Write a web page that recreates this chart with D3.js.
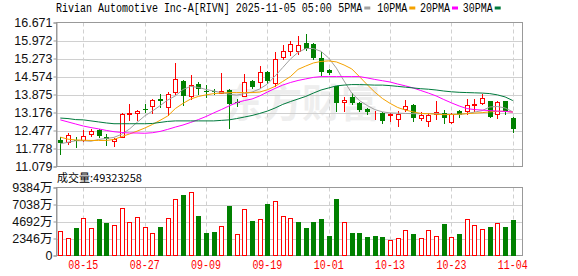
<!DOCTYPE html>
<html>
<head>
<meta charset="utf-8">
<script src="https://cdn.jsdelivr.net/npm/d3@7"></script>
<style>
  body { margin: 0; background: #fff; }
  svg { display: block; }
</style>
</head>
<body>
<div id="chart"></div>
<script>
// Daily K-line for RIVN, 2025-08-12 .. 2025-11-04

const dates = [
    "08-12","08-13","08-14","08-15","08-18","08-19","08-20","08-21","08-22","08-25",
    "08-26","08-27","08-28","08-29","09-02","09-03","09-04","09-05","09-08","09-09",
    "09-10","09-11","09-12","09-15","09-16","09-17","09-18","09-19","09-22","09-23",
    "09-24","09-25","09-26","09-29","09-30","10-01","10-02","10-03","10-06","10-07",
    "10-08","10-09","10-10","10-13","10-14","10-15","10-16","10-17","10-20","10-21",
    "10-22","10-23","10-24","10-27","10-28","10-29","10-30","10-31","11-03","11-04"
];

const openP = [
    12.09,12.02,12.09,12.09,12.34,12.48,12.22,12.05,12.24,13.13,
    13.16,13.32,13.41,13.71,13.38,13.96,14.41,13.80,14.27,14.03,
    14.01,13.94,14.04,13.60,13.82,14.41,14.37,14.76,14.34,15.35,
    15.57,15.57,15.87,15.83,15.31,14.83,14.21,13.59,13.76,13.56,
    13.33,13.15,13.17,13.06,12.92,13.30,13.45,12.97,12.85,13.13,
    13.14,12.80,13.25,13.23,13.45,13.54,13.61,13.13,13.61,12.98
];
const highP = [
    12.21,12.39,12.24,12.48,12.52,12.54,12.36,12.18,13.14,13.51,
    13.29,13.51,13.71,13.90,13.96,15.08,14.43,14.62,14.37,14.24,
    14.10,14.70,14.08,13.69,14.69,14.45,14.99,14.80,15.53,15.79,
    15.97,16.13,16.24,15.87,15.51,14.87,14.21,13.76,13.95,13.59,
    13.37,13.24,13.20,13.17,13.25,13.68,13.51,13.19,13.17,13.61,
    13.28,13.15,13.28,13.71,13.69,13.90,13.62,13.62,13.62,13.01
];
const lowP = [
    11.58,11.96,11.83,12.06,12.26,12.22,11.90,11.87,12.22,12.87,
    12.90,13.21,13.16,13.38,13.09,13.91,13.46,13.69,13.89,13.76,
    13.88,13.93,12.59,13.44,13.80,14.12,14.15,14.34,14.19,15.25,
    15.39,15.45,15.61,15.27,14.62,14.66,13.24,13.24,13.50,13.24,
    13.11,12.92,12.77,12.84,12.65,13.23,12.85,12.87,12.67,12.94,
    12.76,12.76,13.02,13.10,13.25,13.51,13.01,12.97,13.13,12.40
];
const closeP = [
    12.01,12.32,12.05,12.28,12.44,12.28,12.16,12.13,13.13,13.17,
    13.25,13.28,13.67,13.64,13.90,14.48,13.82,14.25,14.08,14.00,
    13.99,14.00,13.50,13.58,14.37,14.15,14.73,14.41,15.25,15.57,
    15.83,15.79,15.63,15.31,14.73,14.70,13.56,13.67,13.53,13.28,
    13.18,13.17,12.85,13.10,13.12,13.44,12.97,13.06,13.09,13.21,
    12.96,13.13,13.06,13.45,13.51,13.75,13.02,13.58,13.24,12.52
];

// volume in 万股
const volume = [
    3410,2440,3860,5200,3820,4970,4510,4240,6580,4650,
    5340,3960,3130,4000,5200,7830,8380,8790,5520,3040,
    3310,4100,6900,3000,6350,4830,4970,7040,7590,5520,
    5150,4600,3770,4690,4970,2760,7730,4690,3040,3170,
    2620,2760,2620,2160,2480,3540,2900,2350,3540,2760,
    4280,2620,2900,4970,4240,3590,4000,4510,3900,4932.3258
];
// 1 = up day (red), 0 = down day (green) for the volume bars
const volUp = [
    1,1,0,1,1,0,0,1,1,1, 1,1,1,0,1,1,0,1,0,0,
    0,1,0,1,1,0,1,0,1,1, 1,0,0,0,0,0,0,1,0,0,
    0,0,0,1,1,1,0,1,1,1, 0,1,0,1,1,1,0,1,0,0
];

const ma5 = [
    11.96,12.02,12.08,12.08,12.06,12.13,12.17,12.21,12.33,12.53,
    12.79,13.04,13.23,13.44,13.66,13.82,14.07,14.19,14.15,14.07,
    14.01,13.95,13.89,13.85,13.91,13.97,14.09,14.28,14.59,14.92,
    15.25,15.51,15.66,15.66,15.55,15.29,14.90,14.40,13.93,13.64,
    13.45,13.29,13.20,13.16,13.15,13.14,13.13,13.13,13.13,13.14,
    13.10,13.10,13.10,13.14,13.19,13.25,13.39,13.41,13.35,13.20
];
const ma10 = [
    12.22,12.14,12.11,12.10,12.09,12.09,12.09,12.13,12.24,12.34,
    12.45,12.57,12.71,12.87,13.04,13.33,13.53,13.70,13.80,13.86,
    13.91,13.93,13.95,13.95,13.95,13.95,13.97,14.06,14.19,14.38,
    14.57,14.85,14.98,15.10,15.16,15.18,15.14,15.02,14.87,14.57,
    14.26,13.97,13.72,13.53,13.37,13.27,13.20,13.14,13.13,13.11,
    13.09,13.10,13.11,13.13,13.15,13.17,13.20,13.22,13.22,13.19
];
const ma20 = [
    12.89,12.81,12.73,12.65,12.59,12.54,12.48,12.43,12.40,12.38,
    12.38,12.37,12.39,12.44,12.52,12.61,12.69,12.79,12.90,13.02,
    13.16,13.29,13.43,13.56,13.64,13.70,13.82,13.97,14.11,14.24,
    14.34,14.42,14.48,14.54,14.57,14.57,14.57,14.57,14.57,14.57,
    14.52,14.46,14.41,14.36,14.28,14.21,14.13,14.03,13.93,13.82,
    13.68,13.55,13.43,13.33,13.29,13.27,13.25,13.23,13.22,13.19
];
const ma30 = [
    12.96,12.94,12.90,12.89,12.85,12.81,12.77,12.74,12.74,12.74,
    12.74,12.74,12.75,12.79,12.83,12.85,12.85,12.85,12.85,12.85,
    12.85,12.87,12.89,12.94,13.00,13.06,13.14,13.23,13.35,13.49,
    13.60,13.70,13.80,13.93,14.05,14.13,14.21,14.24,14.26,14.26,
    14.25,14.24,14.24,14.22,14.19,14.16,14.13,14.10,14.08,14.05,
    14.01,13.98,13.96,13.95,13.94,13.93,13.91,13.86,13.78,13.64
];

const priceTicks = [11.079, 11.778, 12.477, 13.176, 13.875, 14.574, 15.273, 15.972, 16.671];
const volTicks = [0, 2346, 4692, 7038, 9384];
const dateTicks = ["08-15", "08-27", "09-09", "09-19", "10-01", "10-13", "10-23", "11-04"];

const maNames = ["5PMA", "10PMA", "20PMA", "30PMA"];
const maColors = ["#a0a0a0", "#f5a200", "#ff00ff", "#007a3d"];
const maSeries = [ma5, ma10, ma20, ma30];

const RED = "#ff0000";
const GREEN = "#008000";
const GRID = "#d0d0d0";
const FRAME = "#999";
const MONO = "'Liberation Mono', monospace";
const NUMF = "'Liberation Sans', Arial, sans-serif";
const CJK = "'Noto Sans CJK SC', sans-serif";

const width = 578, height = 276;
const left = 56.5, right = 522.5;
const pTop = 22.5, pBottom = 166.5;
const vTop = 187.5, vBottom = 255.5;

const svg = d3.select("#chart").append("svg")
    .attr("width", width)
    .attr("height", height);

const x = d3.scalePoint().domain(dates).range([left + 3.8, right - 9.7]);
const yP = d3.scaleLinear().domain([11.079, 16.671]).range([pBottom, pTop]);
const yV = d3.scaleLinear().domain([0, 9384]).range([vBottom, vTop]);

const bars = dates.map((d, i) => ({
    d, o: openP[i], h: highP[i], l: lowP[i], c: closeP[i], v: volume[i], vu: volUp[i]
}));

// watermark
svg.append("text")
    .attr("x", 224).attr("y", 117)
    .attr("font-family", CJK).attr("font-weight", "bold")
    .attr("font-size", "39px").attr("fill", "#eeeeee")
    .text("东方财富");

// ---- grid ----
const grid = svg.append("g");
grid.selectAll(".hp").data(priceTicks.slice(1, -1)).join("line")
    .attr("x1", left).attr("x2", right)
    .attr("y1", d => Math.round(yP(d)) + 0.5).attr("y2", d => Math.round(yP(d)) + 0.5)
    .attr("stroke", GRID);
grid.selectAll(".hv").data(volTicks.slice(1, -1)).join("line")
    .attr("x1", left).attr("x2", right)
    .attr("y1", d => Math.round(yV(d)) + 0.5).attr("y2", d => Math.round(yV(d)) + 0.5)
    .attr("stroke", GRID);
[[pTop, pBottom], [vTop, vBottom]].forEach(([t, b]) => {
    grid.append("g").selectAll("line").data(dateTicks).join("line")
        .attr("x1", d => Math.round(x(d)) + 0.5).attr("x2", d => Math.round(x(d)) + 0.5)
        .attr("y1", t).attr("y2", b)
        .attr("stroke", GRID).attr("stroke-dasharray", "4,3");
});

// ---- frames ----
svg.append("rect").attr("x", left).attr("y", pTop)
    .attr("width", right - left).attr("height", pBottom - pTop)
    .attr("fill", "none").attr("stroke", FRAME);
svg.append("rect").attr("x", left).attr("y", vTop)
    .attr("width", right - left).attr("height", vBottom - vTop)
    .attr("fill", "none").attr("stroke", FRAME);

// ---- axes ----
const axP = svg.append("g").attr("transform", `translate(${left},0)`)
    .call(d3.axisLeft(yP).tickValues(priceTicks).tickSize(3).tickPadding(1)
        .tickFormat(d3.format(".3f")));
const axV = svg.append("g").attr("transform", `translate(${left},0)`)
    .call(d3.axisLeft(yV).tickValues(volTicks).tickSize(3).tickPadding(1)
        .tickFormat(d => d === 0 ? "0" : d + "万"));
[axP, axV].forEach(ax => {
    ax.select(".domain").attr("stroke", FRAME);
    ax.selectAll(".tick line").attr("stroke", FRAME);
    ax.selectAll(".tick text")
        .attr("font-family", `${NUMF}, 'Noto Sans CJK SC'`)
        .attr("font-size", "12.5px")
        .attr("fill", "#111");
});

// ---- candles ----
const cg = svg.append("g");
bars.forEach(b => {
    const cx = Math.round(x(b.d));
    const up = b.c >= b.o;
    const col = up ? RED : GREEN;
    cg.append("line")
        .attr("x1", cx + 0.5).attr("x2", cx + 0.5)
        .attr("y1", Math.round(yP(b.h))).attr("y2", Math.round(yP(b.l)) + 1)
        .attr("stroke", col);
    const top = Math.round(yP(Math.max(b.o, b.c)));
    const bot = Math.round(yP(Math.min(b.o, b.c)));
    if (up) {
        cg.append("rect")
            .attr("x", cx - 1.5).attr("y", top + 0.5)
            .attr("width", 4).attr("height", Math.max(bot - top, 0))
            .attr("fill", "#fff").attr("stroke", col);
    } else {
        cg.append("rect")
            .attr("x", cx - 2).attr("y", top)
            .attr("width", 5).attr("height", Math.max(bot - top, 1))
            .attr("fill", col);
    }
});

// ---- moving averages ----
maSeries.forEach((s, k) => {
    const line = d3.line()
        .x((d, i) => x(dates[i]))
        .y(d => yP(d));
    svg.append("path")
        .datum(s)
        .attr("d", line)
        .attr("fill", "none")
        .attr("stroke", maColors[k])
        .attr("stroke-width", 1);
});

// ---- volume ----
const vg = svg.append("g");
bars.forEach(b => {
    const cx = Math.round(x(b.d));
    const top = Math.round(yV(b.v));
    if (b.vu) {
        vg.append("rect")
            .attr("x", cx - 1.5).attr("y", top + 0.5)
            .attr("width", 4).attr("height", Math.round(vBottom) - top - 1)
            .attr("fill", "#fff").attr("stroke", RED);
    } else {
        vg.append("rect")
            .attr("x", cx - 2).attr("y", top)
            .attr("width", 5).attr("height", Math.round(vBottom) - top)
            .attr("fill", GREEN);
    }
});

// ---- texts ----
// 12px mono squeezed to a 6px character cell
function mono(str, x0, y0, color) {
    return svg.append("text")
        .attr("transform", `translate(${x0},${y0}) scale(0.8333,1)`)
        .attr("font-family", MONO).attr("font-size", "12px")
        .attr("fill", color)
        .text(str);
}

mono("Rivian Automotive Inc-A[RIVN] 2025-11-05 05:00", 56, 12, "#000");
const legendX = [338.3, 377.3, 420, 462.7];
maNames.forEach((n, k) => {
    mono(n, legendX[k], 12, "#000");
    svg.append("rect")
        .attr("x", legendX[k] + n.length * 6 + 2).attr("y", 6.5)
        .attr("width", 6).attr("height", 3)
        .attr("fill", maColors[k]);
});

svg.append("text")
    .attr("x", 57).attr("y", 182)
    .attr("font-family", CJK).attr("font-size", "11px").attr("fill", "#000")
    .text("成交量:" + Math.round(volume[volume.length - 1] * 10000));

dateTicks.forEach(d => {
    mono(d, x(d) - 15, 269, RED);
});
</script>
</body>
</html>
